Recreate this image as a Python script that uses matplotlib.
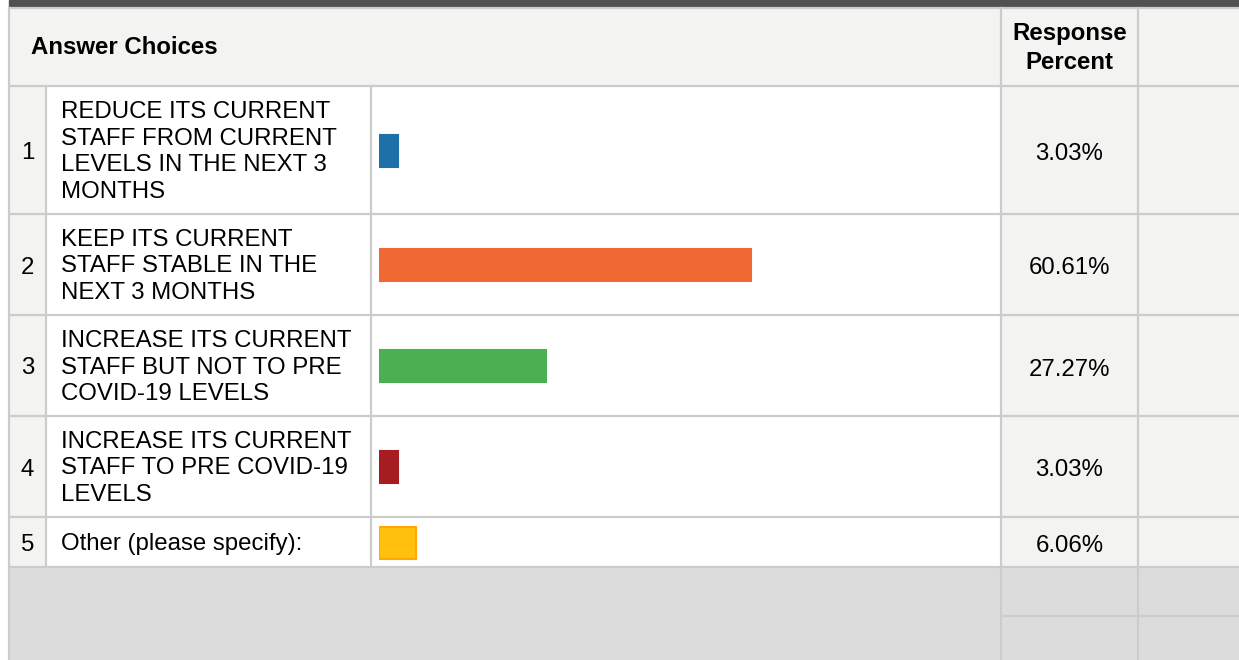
import matplotlib
import matplotlib.pyplot as plt
from matplotlib.patches import Rectangle

matplotlib.use('Agg')

plt.rcParams['font.family'] = ['Liberation Sans', 'DejaVu Sans']

# Survey data
choice_numbers = ['1', '2', '3', '4', '5']
choice_labels = [
    'REDUCE ITS CURRENT\nSTAFF FROM CURRENT\nLEVELS IN THE NEXT 3\nMONTHS',
    'KEEP ITS CURRENT\nSTAFF STABLE IN THE\nNEXT 3 MONTHS',
    'INCREASE ITS CURRENT\nSTAFF BUT NOT TO PRE\nCOVID-19 LEVELS',
    'INCREASE ITS CURRENT\nSTAFF TO PRE COVID-19\nLEVELS',
    'Other (please specify):',
]
response_percent = [3.03, 60.61, 27.27, 3.03, 6.06]
bar_colors = ['#1d70a8', '#f06833', '#4cb052', '#a51d21', '#ffc10e']
bar_edges = ['#1d70a8', '#f06833', '#4cb052', '#a51d21', '#ffa800']

# Table layout (pixels)
W, H = 1239, 660
row_edges = [86, 214, 315, 416, 517, 567]
col_edges = [9, 46, 371, 1001, 1138, W]
grid = '#cccccc'
light = '#f3f3f2'
fs = 17.3

fig = plt.figure(figsize=(W / 100, H / 100), dpi=100)
ax = fig.add_axes([0, 0, 1, 1])
ax.set_xlim(0, W)
ax.set_ylim(H, 0)
ax.axis('off')

# top dark band
ax.add_patch(Rectangle((9, 0), W - 9, 8, color='#505050', zorder=1))
# header
ax.add_patch(Rectangle((9, 8), W - 9, row_edges[0] - 8, color=light, zorder=1))
# body cells
for i in range(len(choice_numbers)):
    y0, y1 = row_edges[i], row_edges[i + 1]
    ax.add_patch(Rectangle((col_edges[0], y0), col_edges[1] - col_edges[0], y1 - y0, color=light, zorder=1))
    ax.add_patch(Rectangle((col_edges[1], y0), col_edges[3] - col_edges[1], y1 - y0, color='white', zorder=1))
    ax.add_patch(Rectangle((col_edges[3], y0), W - col_edges[3], y1 - y0, color=light, zorder=1))
# bottom grey area
ax.add_patch(Rectangle((9, row_edges[-1]), W - 9, H - row_edges[-1], color='#dcdcdc', zorder=1))

# grid lines
lw = 1.6
ax.plot([9, 9], [8, H], color=grid, lw=lw, zorder=2)
ax.plot([9, W], [8, 8], color=grid, lw=lw, zorder=2)
for y in row_edges:
    ax.plot([9, W], [y - 0.5, y - 0.5], color=grid, lw=lw, zorder=2)
for x in col_edges[1:3]:
    ax.plot([x - 0.5, x - 0.5], [row_edges[0], row_edges[-1]], color=grid, lw=lw, zorder=2)
for x in col_edges[3:5]:
    ax.plot([x - 0.5, x - 0.5], [8, H], color=grid, lw=lw, zorder=2)
ax.plot([col_edges[3], W], [616, 616], color=grid, lw=lw, zorder=2)

# header text
ax.text(31, 47, 'Answer Choices', fontsize=fs, fontweight='bold', va='center', ha='left', zorder=3)
ax.text((col_edges[3] + col_edges[4]) / 2, 48, 'Response\nPercent', fontsize=fs, fontweight='bold',
        va='center', ha='center', linespacing=1.29, zorder=3)

# row text
for i, (num, label, pct) in enumerate(zip(choice_numbers, choice_labels, response_percent)):
    yc = (row_edges[i] + row_edges[i + 1]) / 2
    ax.text((col_edges[0] + col_edges[1]) / 2, yc + 3, num, fontsize=fs, va='center', ha='center', zorder=3)
    ax.text(61, yc + 2, label, fontsize=fs, va='center', ha='left', linespacing=1.29, zorder=3)
    ax.text((col_edges[3] + col_edges[4]) / 2, yc + 4, f'{pct:.2f}%', fontsize=fs,
            va='center', ha='center', zorder=3)

# bars: x in percent, y in pixels
bx0, bx1 = 379, 379 + 613
bax = fig.add_axes([bx0 / W, 0, (bx1 - bx0) / W, 1])
bax.set_xlim(0, 100)
bax.set_ylim(H, 0)
bax.axis('off')
bax.patch.set_alpha(0)
centers = [(row_edges[i] + row_edges[i + 1]) / 2 + 0.5 for i in range(len(response_percent))]
bax.barh(centers, response_percent, height=32, color=bar_colors, edgecolor=bar_edges, linewidth=1.5)

fig.savefig('out.png', dpi=100)
plt.close(fig)
